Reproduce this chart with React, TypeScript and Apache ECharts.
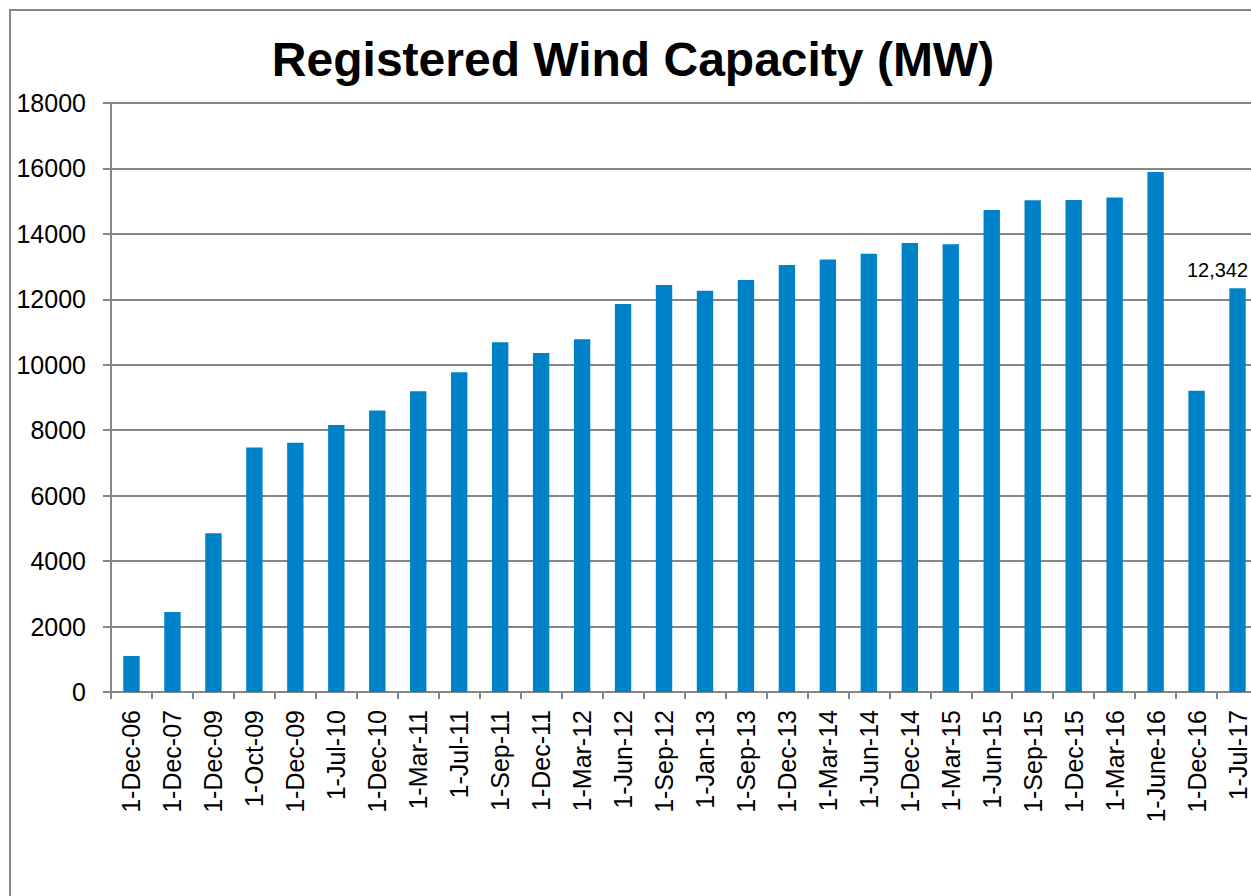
import React, { useEffect, useRef } from "react";
import * as echarts from "echarts";

const categories = [
  "1-Dec-06", "1-Dec-07", "1-Dec-09", "1-Oct-09", "1-Dec-09", "1-Jul-10", "1-Dec-10",
  "1-Mar-11", "1-Jul-11", "1-Sep-11", "1-Dec-11", "1-Mar-12", "1-Jun-12", "1-Sep-12",
  "1-Jan-13", "1-Sep-13", "1-Dec-13", "1-Mar-14", "1-Jun-14", "1-Dec-14", "1-Mar-15",
  "1-Jun-15", "1-Sep-15", "1-Dec-15", "1-Mar-16", "1-June-16", "1-Dec-16", "1-Jul-17",
];

const capacityMW = [
  1100, 2445, 4850, 7470, 7620, 8160, 8600,
  9190, 9770, 10690, 10360, 10780, 11860, 12440,
  12265, 12590, 13050, 13220, 13395, 13720, 13680,
  14730, 15025, 15035, 15115, 15890, 9210, 12342,
];

const labelledIndex = 27;
const titleText = "Registered Wind Capacity (MW)";
const yMin = 0;
const yMax = 18000;
const yInterval = 2000;

const FONT = "'Liberation Sans', Arial, sans-serif";
const GRAY = "#868686";
const BLUE = "#0082c8";

export default function App() {
  const ref = useRef<HTMLDivElement>(null);

  useEffect(() => {
    if (!ref.current) return;
    const chart = echarts.init(ref.current, undefined, { renderer: "svg" });
    chart.setOption({
      animation: false,
      backgroundColor: "#ffffff",
      graphic: [
        {
          type: "rect",
          shape: { x: 10, y: 10, width: 1400, height: 1000 },
          style: { fill: "none", stroke: GRAY, lineWidth: 2 },
          silent: true,
          z: -1,
        },
        {
          type: "text",
          x: 633,
          y: 59,
          style: {
            text: titleText,
            font: `bold 48px ${FONT}`,
            fill: "#000",
            textAlign: "center",
            textVerticalAlign: "middle",
          },
        },
      ],
      grid: {
        left: 111,
        top: 103,
        width: 1147,
        bottom: 204,
        outerBoundsMode: "none",
        containLabel: false,
      },
      xAxis: {
        type: "category",
        data: categories,
        boundaryGap: true,
        axisLine: { show: true, lineStyle: { color: GRAY, width: 2 } },
        axisTick: { show: true, length: 7, lineStyle: { color: GRAY, width: 2 } },
        axisLabel: {
          interval: 0,
          rotate: 90,
          margin: 18,
          color: "#000",
          fontFamily: FONT,
          fontSize: 25,
        },
        splitLine: { show: false },
      },
      yAxis: {
        type: "value",
        min: yMin,
        max: yMax,
        interval: yInterval,
        axisLine: { show: true, lineStyle: { color: GRAY, width: 2 } },
        axisTick: { show: true, length: 8, lineStyle: { color: GRAY, width: 2 } },
        axisLabel: {
          margin: 25,
          color: "#000",
          fontFamily: FONT,
          fontSize: 25,
          formatter: (v: number) => String(v),
        },
        splitLine: { show: true, lineStyle: { color: GRAY, width: 2 } },
      },
      series: [
        {
          type: "bar",
          barWidth: "40%",
          itemStyle: { color: BLUE },
          data: capacityMW.map((v, i) =>
            i === labelledIndex
              ? {
                  value: v,
                  label: {
                    show: true,
                    position: "top",
                    distance: 8,
                    offset: [-20, 0],
                    formatter: (p: any) => Number(p.value).toLocaleString("en-US"),
                    color: "#000",
                    fontFamily: FONT,
                    fontSize: 20,
                  },
                }
              : v
          ),
        },
      ],
    });
    return () => chart.dispose();
  }, []);

  return (
    <div
      style={{
        position: "fixed",
        left: 0,
        top: 0,
        width: 1251,
        height: 896,
        overflow: "hidden",
        background: "#fff",
      }}
    >
      <div ref={ref} style={{ width: 1300, height: 896 }} />
    </div>
  );
}
